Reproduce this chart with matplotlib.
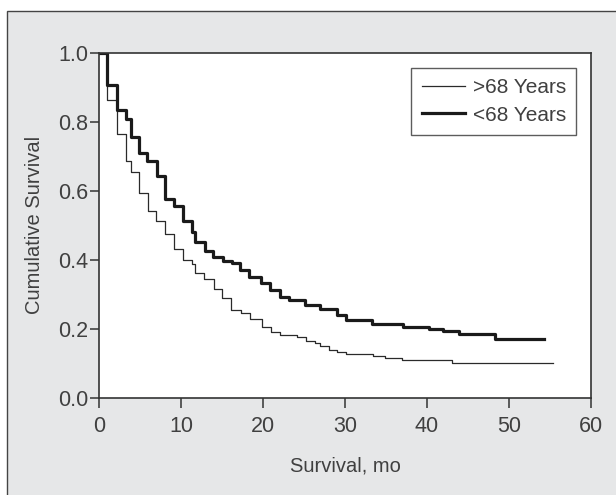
import matplotlib
matplotlib.use("Agg")
import matplotlib.pyplot as plt
from matplotlib.patches import Rectangle

# Kaplan-Meier steps (month, survival from that month on)
months_young = [0, 1.0, 2.15, 3.3, 3.85, 4.9, 5.9, 7.05, 8.05, 9.1, 10.2,
                11.35, 11.75, 12.9, 13.9, 15.1, 16.2, 17.2, 18.35, 19.75,
                20.9, 22.05, 23.15, 25.1, 26.95, 29.0, 30.1, 33.35, 37.05,
                40.2, 41.9, 43.95, 48.35, 54.3]
surv_young = [1.0, 0.908, 0.835, 0.810, 0.757, 0.711, 0.688, 0.643, 0.576,
              0.557, 0.513, 0.482, 0.453, 0.426, 0.407, 0.398, 0.391, 0.371,
              0.350, 0.333, 0.313, 0.293, 0.283, 0.270, 0.257, 0.240, 0.225,
              0.213, 0.206, 0.200, 0.194, 0.185, 0.170, 0.170]

months_old = [0, 1.0, 2.15, 3.3, 3.85, 4.85, 6.0, 7.0, 8.0, 9.15, 10.2,
              11.3, 11.7, 12.8, 14.0, 15.0, 16.05, 17.3, 18.4, 19.85, 21.0,
              22.1, 24.2, 25.25, 26.3, 26.95, 28.0, 29.0, 30.1, 33.4, 34.9,
              37.0, 43.0, 55.4]
surv_old = [1.0, 0.865, 0.766, 0.686, 0.656, 0.593, 0.543, 0.512, 0.474,
            0.432, 0.400, 0.388, 0.363, 0.345, 0.314, 0.288, 0.253, 0.245,
            0.228, 0.204, 0.189, 0.183, 0.176, 0.165, 0.157, 0.151, 0.139,
            0.133, 0.127, 0.121, 0.114, 0.108, 0.101, 0.101]

x_ticks = [0, 10, 20, 30, 40, 50, 60]
y_ticks = [0.0, 0.2, 0.4, 0.6, 0.8, 1.0]

plt.rcParams['font.family'] = ['Liberation Sans', 'DejaVu Sans']
txt = '#404040'
edge = '#333333'

fig = plt.figure(figsize=(6.16, 4.95), dpi=100, facecolor='white')
fig.patches.append(Rectangle((7 / 616, -0.02), 1.0, 0.02 + (495 - 10.7) / 495,
                             transform=fig.transFigure, facecolor='#e6e7e8',
                             edgecolor='#444444', linewidth=1.0, zorder=-10))

ax = fig.add_axes([99 / 616, (495 - 397.5) / 495, 492 / 616, 344.2 / 495])
ax.set_facecolor('white')

ax.step(months_old, surv_old, where='post', color='#2a2a2a', linewidth=0.9,
        label='>68 Years')
ax.step(months_young, surv_young, where='post', color='#1a1a1a', linewidth=2.3,
        label='<68 Years')

ax.set_xlim(0, 60)
ax.set_ylim(0, 1.0)
ax.set_xticks(x_ticks)
ax.set_yticks(y_ticks)
ax.set_xticklabels([str(v) for v in x_ticks])
ax.set_yticklabels(['%.1f' % v for v in y_ticks])

for s in ax.spines.values():
    s.set_color(edge)
    s.set_linewidth(1.2)
ax.tick_params(axis='x', direction='out', length=7, width=1.1, color=edge,
               labelsize=15.5, labelcolor=txt, pad=6.5)
ax.tick_params(axis='y', direction='out', length=6.5, width=1.1, color=edge,
               labelsize=15.5, labelcolor=txt, pad=1.5)

ax.set_xlabel('Survival, mo', fontsize=14.5, color=txt, labelpad=14)
ax.set_ylabel('Cumulative Survival', fontsize=14.5, color=txt, labelpad=10)

leg = ax.legend(loc='upper right', fontsize=15, frameon=True, fancybox=False,
                handlelength=2.1, handletextpad=0.35, borderaxespad=0.7,
                labelspacing=0.4, borderpad=0.5)
leg.get_frame().set_edgecolor(edge)
leg.get_frame().set_linewidth(1.0)
for t in leg.get_texts():
    t.set_color(txt)

fig.savefig('out.png', dpi=100, facecolor=fig.get_facecolor())
